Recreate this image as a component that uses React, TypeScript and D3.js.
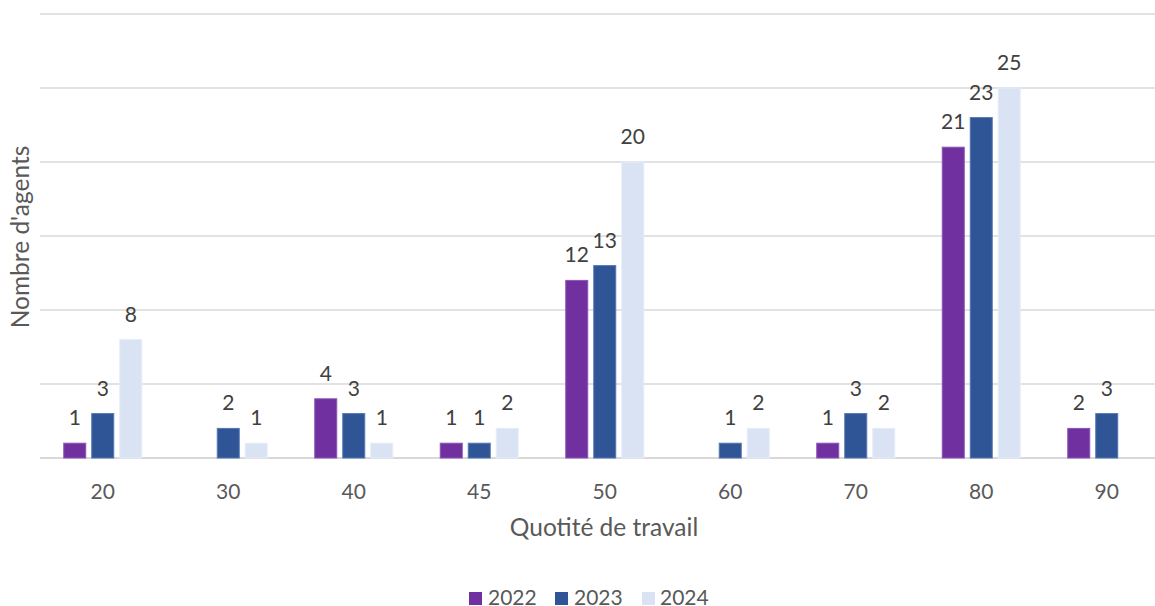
import React from "react";
import * as d3 from "d3";

const categories = ["20", "30", "40", "45", "50", "60", "70", "80", "90"];
const seriesNames = ["2022", "2023", "2024"];
const values2022 = [1, 0, 4, 1, 12, 0, 1, 21, 2];
const values2023 = [3, 2, 3, 1, 13, 1, 3, 23, 3];
const values2024 = [8, 1, 1, 2, 20, 2, 2, 25, 0];
const yTicks = [0, 5, 10, 15, 20, 25, 30];
const colors = ["#7030A0", "#2F5597", "#DAE3F3"];
const strokes = ["#8a55b3", "#5477b0", "#e6ecf7"];

const W = 1155;
const H = 606;
const FONT = "Lato, 'Open Sans', sans-serif";

export default function App() {
  const seriesValues = [values2022, values2023, values2024];
  const x0 = d3.scaleBand<string>().domain(categories).range([40, 40 + 125.5 * 9]).padding(0);
  const x1 = d3
    .scaleBand<string>()
    .domain(seriesNames)
    .range([-42, 42])
    .paddingInner(6 / 28)
    .paddingOuter(3 / 28);
  const y = d3.scaleLinear().domain([0, 30]).range([458, 14]);

  const legendItems = [
    { name: "2022", sq: 469, tx: 488 },
    { name: "2023", sq: 555, tx: 574 },
    { name: "2024", sq: 642, tx: 660 },
  ];

  return (
    <svg
      width={W}
      height={H}
      style={{ position: "absolute", left: 0, top: 0, background: "#fff" }}
      fontFamily={FONT}
    >
      {yTicks.map((t) => (
        <line
          key={t}
          x1={40}
          x2={W}
          y1={y(t)}
          y2={y(t)}
          stroke="#d9d9d9"
          strokeWidth={t === 0 ? 2 : 1.5}
        />
      ))}
      {categories.map((c, ci) => {
        const cx = (x0(c) as number) + x0.bandwidth() / 2;
        return (
          <g key={c}>
            {seriesNames.map((s, si) => {
              const v = seriesValues[si][ci];
              if (!v) return null;
              const bx = cx + (x1(s) as number);
              return (
                <g key={s}>
                  <rect
                    x={bx}
                    y={y(v)}
                    width={x1.bandwidth()}
                    height={y(0) - y(v)}
                    fill={colors[si]}
                    stroke={strokes[si]}
                    strokeWidth={1}
                  />
                  <text
                    x={bx + x1.bandwidth() / 2}
                    y={y(v) - 18}
                    textAnchor="middle"
                    fontSize={21}
                    fill="#404040"
                  >
                    {v}
                  </text>
                </g>
              );
            })}
            <text x={cx} y={499} textAnchor="middle" fontSize={21} fill="#595959">
              {c}
            </text>
          </g>
        );
      })}
      <text x={604} y={536} textAnchor="middle" fontSize={24.5} fill="#595959">
        Quotité de travail
      </text>
      <text
        transform="translate(29,237) rotate(-90)"
        textAnchor="middle"
        fontSize={24.5}
        fill="#595959"
      >
        Nombre d'agents
      </text>
      {legendItems.map((l, i) => (
        <g key={l.name}>
          <rect x={l.sq} y={592} width={13} height={13} fill={colors[i]} />
          <text x={l.tx} y={605} fontSize={21} fill="#595959">
            {l.name}
          </text>
        </g>
      ))}
    </svg>
  );
}
